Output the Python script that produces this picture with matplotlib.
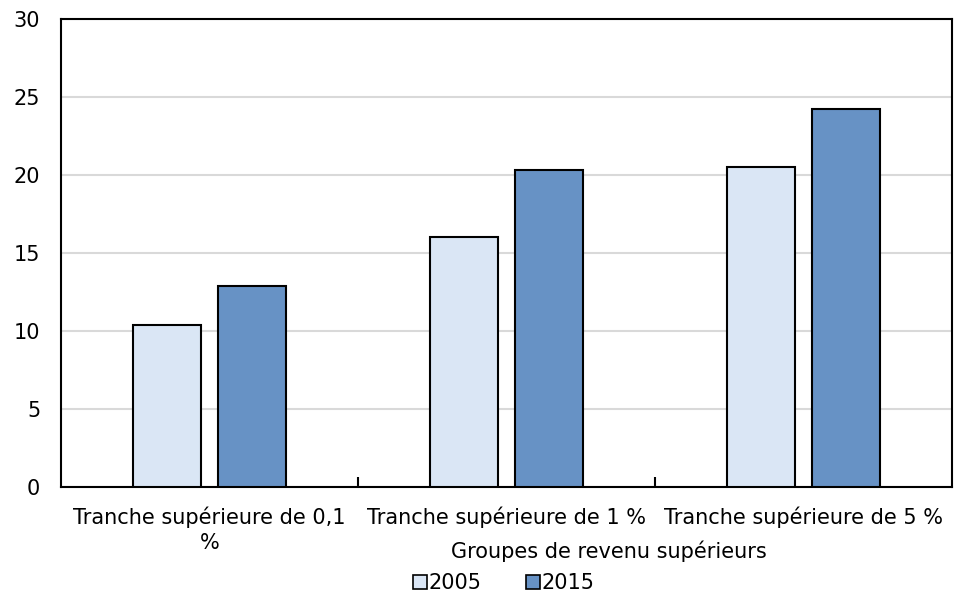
import matplotlib
matplotlib.use("Agg")
import matplotlib.pyplot as plt
import numpy as np
from matplotlib.lines import Line2D

categories = ["Tranche supérieure de 0,1\n%", "Tranche supérieure de 1 %", "Tranche supérieure de 5 %"]
series_names = ["2005", "2015"]
values_2005 = [10.4, 16.0, 20.5]
values_2015 = [12.9, 20.3, 24.2]
yticks = [0, 5, 10, 15, 20, 25, 30]
xlabel = "Groupes de revenu supérieurs"

colors = ["#dae6f5", "#6792c5"]
FS = 15

plt.rcParams['font.family'] = ['DejaVu Sans']
fig = plt.figure(figsize=(9.59, 5.92), dpi=100)
L, R, T, B = 61, 952, 19, 487
ax = fig.add_axes([L/959, 1-B/592, (R-L)/959, (B-T)/592])

x = np.arange(len(categories))
w = 0.227
gap = 0.059
off = (w + gap) / 2
ax.bar(x - off, values_2005, w, color=colors[0], edgecolor="black", linewidth=1.5, zorder=3)
ax.bar(x + off, values_2015, w, color=colors[1], edgecolor="black", linewidth=1.5, zorder=3)

ax.set_xlim(-0.5, len(categories) - 0.5)
ax.set_ylim(0, 30)
ax.set_yticks(yticks)
ax.yaxis.grid(True, color="#d9d9d9", linewidth=1.5, zorder=0)
ax.set_axisbelow(True)
ax.tick_params(axis="y", length=0, labelsize=FS, pad=15)
ax.set_xticks(x)
ax.set_xticklabels(categories, fontsize=FS, linespacing=1.3)
ax.tick_params(axis="x", length=0, pad=14)
# minor ticks at category boundaries, pointing inward
ax.set_xticks([0.5, 1.5], minor=True)
ax.tick_params(axis="x", which="minor", direction="in", length=7, width=1.5, color="black")
for s in ax.spines.values():
    s.set_linewidth(1.5)
    s.set_color("black")
ax.set_xlabel(xlabel, fontsize=FS, va="center")
ax.xaxis.set_label_coords((609 - L) / (R - L), (B - 551) / (B - T))

handles = [Line2D([], [], marker="s", linestyle="none", markersize=10,
                  markerfacecolor=c, markeredgecolor="black", markeredgewidth=1.2)
           for c in colors]
fig.legend(handles, series_names, loc="center", bbox_to_anchor=(503/959, 1-583/592),
           ncol=2, frameon=False, fontsize=FS, handletextpad=0.0, columnspacing=2.1,
           handlelength=0.8, borderpad=0)

fig.savefig("out.png", dpi=100)
